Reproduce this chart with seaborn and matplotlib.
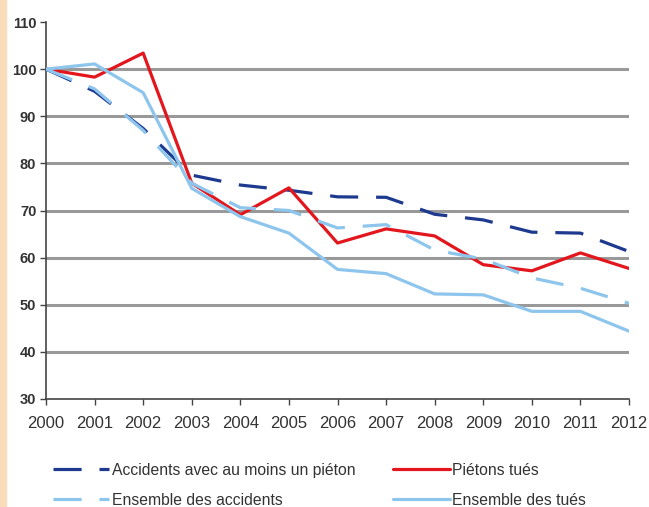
import pandas as pd
import numpy as np
import matplotlib
matplotlib.use("Agg")
import matplotlib.pyplot as plt
import seaborn as sns
from matplotlib.patches import Rectangle

# data (index, base 100 in 2000)
years = list(range(2000, 2013))
accidents_pieton = [100, 95.3, 87.4, 77.5, 75.4, 74.3, 72.9, 72.8, 69.2, 68.0, 65.4, 65.2, 61.3]
pietons_tues = [100, 98.3, 103.4, 75.8, 69.1, 74.8, 63.1, 66.1, 64.6, 58.5, 57.2, 61.0, 57.7]
ensemble_accidents = [100, 95.8, 87.0, 75.8, 70.6, 70.0, 66.3, 67.0, 61.6, 59.7, 55.7, 53.5, 50.3]
ensemble_tues = [100, 101.1, 95.0, 74.7, 68.7, 65.2, 57.5, 56.6, 52.3, 52.1, 48.6, 48.6, 44.4]

labels = ["Accidents avec au moins un piéton", "Piétons tués",
          "Ensemble des accidents", "Ensemble des tués"]
colors = ["#1d3a8f", "#e3161d", "#8ec5ec", "#8ec5ec"]
dashed = [True, False, True, False]

yticks = list(range(30, 111, 10))

"""
Plot
"""
def build_frame():
    rows = []
    for lab, vals in zip(labels, [accidents_pieton, pietons_tues, ensemble_accidents, ensemble_tues]):
        rows.append(pd.DataFrame({"year": years, "value": vals, "serie": lab}))
    return pd.concat(rows, ignore_index=True)


def plot_chart(df):
    sns.set_style("white")
    plt.rcParams['font.family'] = ['Liberation Sans', 'DejaVu Sans']

    fig = plt.figure(figsize=(6.49, 5.07), dpi=100)
    ax = fig.add_axes([46 / 649, 1 - 399 / 507, (629 - 46) / 649, (399 - 22) / 507])

    fig.patches.append(Rectangle((0, 0), 6 / 649, 1, transform=fig.transFigure,
                                 color="#f9dcb8", zorder=0))

    handles = {}
    for lab, col, d in zip(labels, colors, dashed):
        sub = df[df["serie"] == lab]
        ls = (0, (8.8, 5.6)) if d else "-"
        sns.lineplot(data=sub, x="year", y="value", color=col, linewidth=2.3,
                     linestyle=ls, ax=ax, label=lab, zorder=3)
        handles[lab] = ax.get_lines()[-1]
    if ax.get_legend():
        ax.get_legend().remove()

    ax.set_xlim(2000, 2012)
    ax.set_ylim(30, 110)
    ax.set_xticks(years)
    ax.set_yticks(yticks)
    ax.set_xlabel("")
    ax.set_ylabel("")

    ax.grid(axis="y", color="#999999", linewidth=2.2)
    ax.set_axisbelow(True)
    gl = ax.get_ygridlines()
    gl[0].set_visible(False)
    gl[-1].set_visible(False)

    for s in ["top", "right"]:
        ax.spines[s].set_visible(False)
    for s in ["left", "bottom"]:
        ax.spines[s].set_color("#444444")
        ax.spines[s].set_linewidth(1.2)

    ax.tick_params(axis="x", direction="out", length=4.5, width=1, color="#444444",
                   labelsize=12, labelcolor="#333333", pad=8, bottom=True)
    ax.tick_params(axis="y", direction="out", length=4, width=1, color="#444444",
                   labelsize=10.5, labelcolor="#333333", pad=3, left=True)
    for t in ax.get_yticklabels():
        t.set_fontweight("bold")

    order = [labels[0], labels[2], labels[1], labels[3]]
    fig.legend([handles[l] for l in order], order, ncol=2, loc="upper left",
               bbox_to_anchor=(42 / 649, 1 - 452 / 507), frameon=False,
               fontsize=11.3, handlelength=3.6, handletextpad=0.15,
               columnspacing=2.4, labelspacing=0.95, labelcolor="#333333",
               borderpad=0.2)

    fig.savefig("out.png", dpi=100)


if __name__ == '__main__':
    df = build_frame()
    plot_chart(df)
